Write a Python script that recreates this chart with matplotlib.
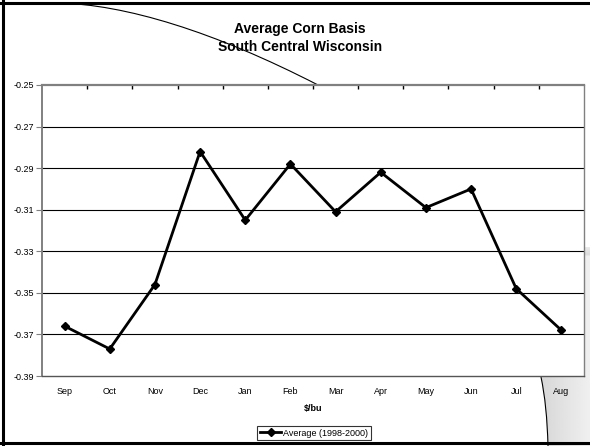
import numpy as np
import matplotlib
matplotlib.use('Agg')
import matplotlib.pyplot as plt
from matplotlib.path import Path
from matplotlib.patches import PathPatch

plt.rcParams['font.family'] = ['Liberation Sans', 'DejaVu Sans']

# data
months = ['Sep', 'Oct', 'Nov', 'Dec', 'Jan', 'Feb', 'Mar', 'Apr', 'May', 'Jun', 'Jul', 'Aug']
basis = [-0.366, -0.377, -0.346, -0.282, -0.315, -0.288, -0.311, -0.292, -0.309, -0.300, -0.348, -0.368]
yticks = [-0.39, -0.37, -0.35, -0.33, -0.31, -0.29, -0.27, -0.25]

W, H = 590, 446
fig = plt.figure(figsize=(W / 100, H / 100), dpi=100)
fig.patch.set_facecolor('white')

# background layer in pixel coords (frame, stray curves, shadow)
bg = fig.add_axes([0, 0, 1, 1], zorder=0)
bg.set_xlim(0, W)
bg.set_ylim(H, 0)
bg.axis('off')
bg.patch.set_alpha(0)

shadow = Path([(585, 247), (W, 247), (W, H), (548, H), (547, 405), (541, 377), (585, 377), (585, 247)],
              [Path.MOVETO, Path.LINETO, Path.LINETO, Path.LINETO, Path.CURVE3, Path.CURVE3,
               Path.LINETO, Path.CLOSEPOLY])
grad = np.tile(np.linspace(0.84, 0.94, 60), (80, 1))
grad[:6] = grad[:6] * 0 + np.linspace(0.97, 0.86, 6)[:, None]
im = bg.imshow(grad, cmap='gray', vmin=0, vmax=1, extent=(540, W, H, 240), aspect='auto', zorder=1)
clip = PathPatch(shadow, facecolor='none', edgecolor='none', transform=bg.transData)
bg.add_patch(clip)
im.set_clip_path(clip)

arc = Path([(57, 3), (125, 4), (215, 32), (318, 85)], [Path.MOVETO, Path.CURVE4, Path.CURVE4, Path.CURVE4])
bg.add_patch(PathPatch(arc, facecolor='none', edgecolor='black', lw=0.8, zorder=2))
low = Path([(541, 377), (547, 405), (548, H)], [Path.MOVETO, Path.CURVE3, Path.CURVE3])
bg.add_patch(PathPatch(low, facecolor='none', edgecolor='black', lw=0.8, zorder=2))

bg.plot([0, W], [3, 3], color='black', lw=2.2, zorder=3)
bg.plot([3, 3], [0, H], color='black', lw=2.2, zorder=3)
bg.plot([0, W], [443, 443], color='black', lw=2.2, zorder=3)

# main chart
ax = fig.add_axes([42 / W, 1 - 376 / H, (584 - 42) / W, (376 - 85) / H], zorder=1)
ax.set_facecolor('white')
x = np.arange(len(months))
ax.plot(x, basis, color='black', lw=2, marker='D', ms=4.5, label='Average (1998-2000)', zorder=3)

ax.set_xlim(-0.5, len(months) - 0.5)
ax.set_ylim(-0.39, -0.25)
ax.set_yticks(yticks)
ax.set_yticklabels([f'{v:.2f}' for v in yticks], fontsize=6.5)
ax.set_xticks(x)
ax.set_xticklabels(months, fontsize=6.5)
ax.tick_params(axis='x', length=0, pad=8)
ax.tick_params(axis='y', length=4, color='#808080', pad=2)
for v in yticks[1:-1]:
    ax.axhline(v, color='black', lw=0.8, zorder=1)

for s in ax.spines.values():
    s.set_color('#808080')
    s.set_linewidth(1.0)
ax.spines['top'].set_linewidth(1.6)
ax.spines['left'].set_linewidth(1.4)
ax.spines['bottom'].set_color('#555555')

top = ax.secondary_xaxis('top')
top.set_xticks(np.arange(0.5, len(months) - 1, 1.0))
top.set_xticklabels([])
top.tick_params(direction='in', length=3, color='black', width=1)
top.spines['top'].set_visible(False)

ax.set_xlabel(r'\$/bu', fontsize=6.5, fontweight='bold', labelpad=6)

fig.text(300 / W, 1 - 38 / H, 'Average Corn Basis\nSouth Central Wisconsin', ha='center', va='center',
         fontsize=10, fontweight='bold', linespacing=1.3)

leg = ax.legend(loc='center', bbox_to_anchor=(314 / W, 1 - 433 / H), bbox_transform=fig.transFigure,
                fontsize=6.5, frameon=True, fancybox=False, handlelength=2.4, handletextpad=0.2,
                borderpad=0.3, borderaxespad=0)
leg.get_frame().set_edgecolor('black')
leg.get_frame().set_linewidth(0.8)

fig.savefig('out.png', dpi=100)
